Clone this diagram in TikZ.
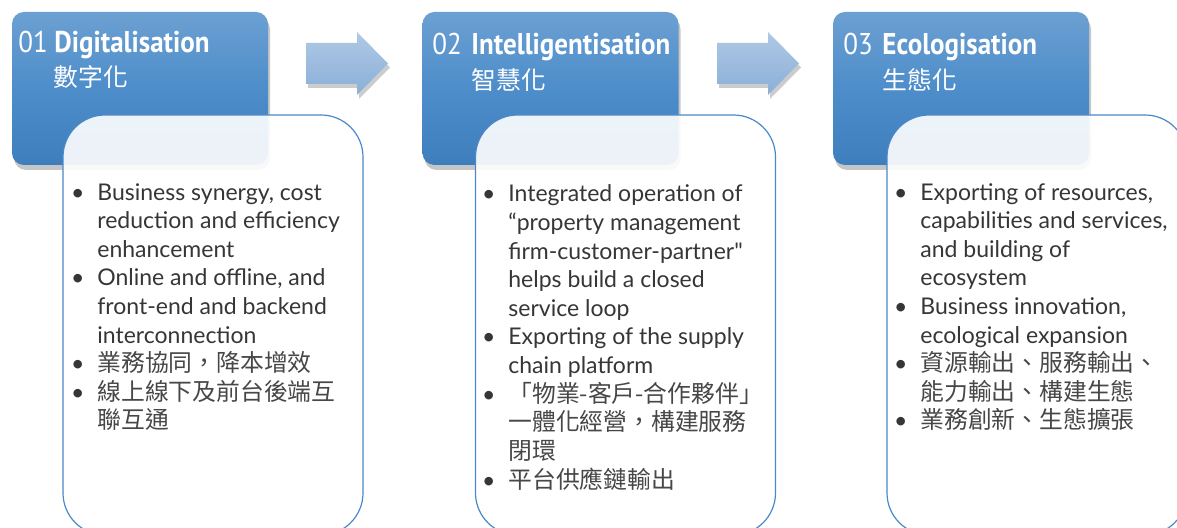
\documentclass[tikz,border=0pt]{standalone}
\usepackage{fontspec}
\setmainfont{Lato}[Ligatures=TeXOff]
\newfontfamily\headfont[FakeStretch=0.9]{PT Sans}
\newfontfamily\cjk{Noto Sans CJK TC}
\usetikzlibrary{shadows}

\definecolor{headtop}{HTML}{6CA0D2}
\definecolor{headmid}{HTML}{4D8DCA}
\definecolor{headbot}{HTML}{3F7EBD}
\definecolor{boxline}{HTML}{4A88C8}
\definecolor{arrowtop}{HTML}{AFC9E5}
\definecolor{arrowbot}{HTML}{8AAFD8}
\definecolor{bodygray}{HTML}{363636}
\definecolor{cjkgray}{HTML}{474747}

\newcommand{\stagebullet}{\llap{\textbullet\hspace{6.5pt}}}
\newcommand{\cjkline}{\cjk\fontsize{11.9}{14.3}\selectfont\color{cjkgray}}

\tikzset{
  stagehead/.style={rectangle, rounded corners=6pt, minimum width=128pt, minimum height=76.5pt, inner sep=0pt,
    top color=headtop, bottom color=headbot, middle color=headmid,
    drop shadow={opacity=0.45, shadow xshift=1pt, shadow yshift=-2.5pt}},
  stagebody/.style={rectangle, rounded corners=21pt, minimum width=150pt, minimum height=210pt, inner sep=0pt,
    draw=boxline, line width=0.6pt, fill=white, fill opacity=0.9},
  stagearrow/.style={top color=arrowtop, bottom color=arrowbot,
    drop shadow={opacity=0.4, shadow xshift=1pt, shadow yshift=-2pt}},
  numtext/.style={inner sep=0pt, anchor=base west, text=white, font=\headfont\fontsize{15}{18}\selectfont},
  titletext/.style={inner sep=0pt, anchor=base west, text=white, font=\headfont\bfseries\fontsize{15}{18}\selectfont},
  cntitle/.style={inner sep=0pt, anchor=base west, text=white, font=\cjk\fontsize{12.4}{15}\selectfont},
  % base of a multi-line node is its last line
  bodytext/.style={inner sep=0pt, anchor=base west, align=left, text=bodygray, font=\fontsize{11.5}{14.3}\selectfont},
}

\begin{document}
\begin{tikzpicture}[x=0.5pt,y=-0.5pt]
\useasboundingbox (0,0) rectangle (1177,528);
\clip (0,0) rectangle (1177,528);

% blue stage headers
\node[stagehead] (head1) at (140,88.5) {};
\node[stagehead] (head2) at (550.5,88.5) {};
\node[stagehead] (head3) at (961,88.5) {};

% arrows between the stages
\shade[stagearrow] (306,43) -- (357,43) -- (357,32) -- (388,63.5) -- (357,95) -- (357,84) -- (306,84) -- cycle;
\shade[stagearrow] (717,43) -- (768,43) -- (768,32) -- (799,63.5) -- (768,95) -- (768,84) -- (717,84) -- cycle;

% white content boxes
\node[stagebody] (body1) at (213,325) {};
\node[stagebody] (body2) at (625.5,325) {};
\node[stagebody] (body3) at (1037,325) {};

% header texts
\node[numtext] (num1) at (18,53) {01};
\node[titletext] (title1) at (54,53) {Digitalisation};
\node[cntitle] (cn1) at (53,87) {數字化};

\node[numtext] (num2) at (432,55) {02};
\node[titletext] (title2) at (471,55) {Intelligentisation};
\node[cntitle] (cn2) at (471,90) {智慧化};

\node[numtext] (num3) at (843,55) {03};
\node[titletext] (title3) at (882,55) {Ecologisation};
\node[cntitle] (cn3) at (882,90) {生態化};

% bullet lists
\node[bodytext] (list1) at (97,429) {\stagebullet Business synergy, cost\\reduction and efficiency\\enhancement\\
  \stagebullet Online and offline, and\\front-end and backend\\interconnection\\
  \stagebullet{\cjkline 業務協同，降本增效}\\
  \stagebullet{\cjkline 線上線下及前台後端互}\\{\cjkline 聯互通}};

\node[bodytext] (list2) at (508,488) {\stagebullet Integrated operation of\\“property management\\firm-customer-partner"\\helps build a closed\\service loop\\
  \stagebullet Exporting of the supply\\chain platform\\
  \stagebullet{\cjkline 「物業-客戶-合作夥伴」}\\{\cjkline 一體化經營，構建服務}\\{\cjkline 閉環}\\
  \stagebullet{\cjkline 平台供應鏈輸出}};

\node[bodytext] (list3) at (920,429) {\stagebullet Exporting of resources,\\capabilities and services,\\and building of\\ecosystem\\
  \stagebullet Business innovation,\\ecological expansion\\
  \stagebullet{\cjkline 資源輸出、服務輸出、}\\{\cjkline 能力輸出、構建生態}\\
  \stagebullet{\cjkline 業務創新、生態擴張}};
\end{tikzpicture}
\end{document}
